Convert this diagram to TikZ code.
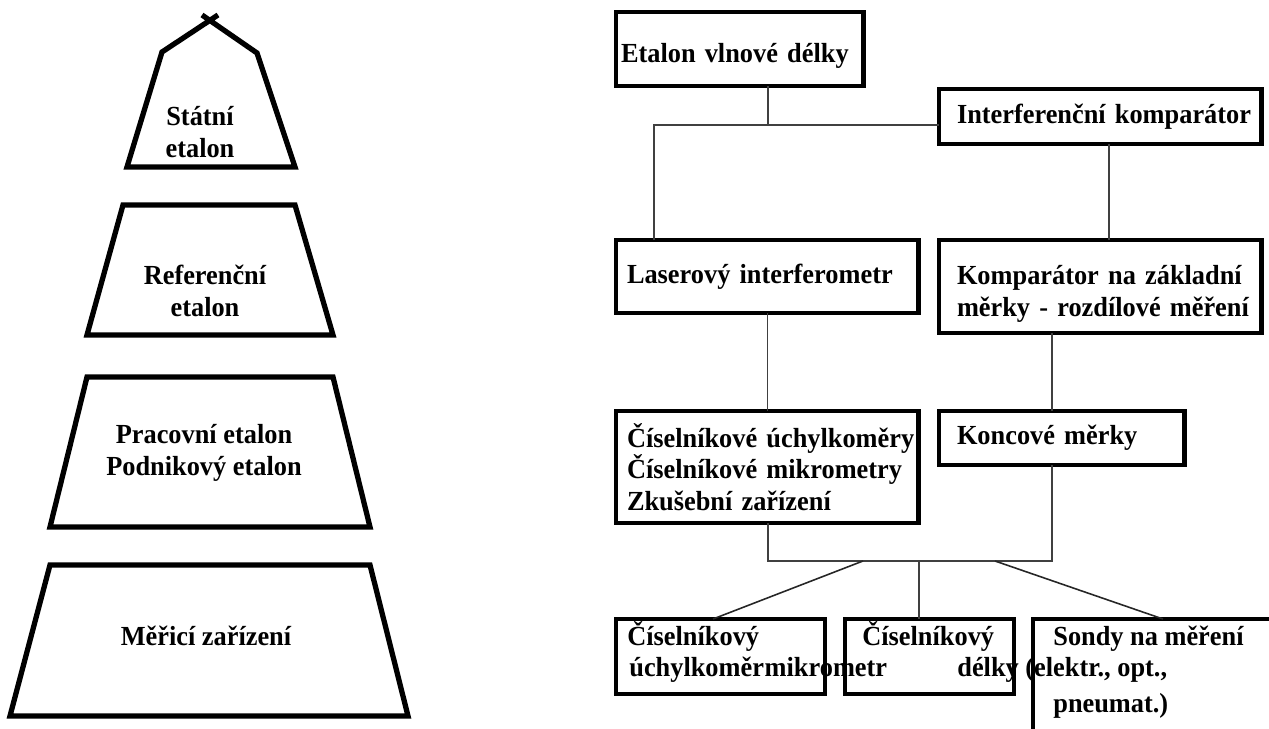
\documentclass[tikz,border=0pt]{standalone}
\usepackage{fontspec}
\setmainfont{Liberation Serif}[FakeStretch=0.955]
\usetikzlibrary{positioning}

\newcommand\hoch{\rule{0pt}{19pt}}
\tikzset{
  piece/.style={line width=3pt},
  blk/.style={draw, line width=2.8pt, anchor=north west, outer sep=0pt, inner ysep=0pt, align=left},
  lbl/.style={inner sep=0pt},
  link/.style={line width=0.6pt, black!75},
  diag/.style={line width=0.9pt, black!85}
}

\begin{document}
\begin{tikzpicture}[x=0.02cm, y=-0.02cm, font=\bfseries\fontsize{15.7}{18}\selectfont]
   \useasboundingbox (0,0) rectangle (1269,729);
   \clip (0,0) rectangle (1269,729);
   % pyramid
   \draw[piece] (218,15) -- (162,52) -- (127,167) -- (295,167) -- (257,53) -- (202,15);
   \draw[piece] (123,205) -- (295,205) -- (333,335) -- (87,335) -- cycle;
   \draw[piece] (87,377) -- (333,377) -- (370,527) -- (50,527) -- cycle;
   \draw[piece] (50,565) -- (370,565) -- (408,716) -- (10,716) -- cycle;
   \node[lbl, align=center] (statni) at (200,132) {Státní\\etalon};
   \node[lbl, align=center] (refer) at (205,291) {Referenční\\etalon};
   \node[lbl, align=center] (pracov) at (204,453) {Pracovní etalon\\Podnikový etalon};
   \node[lbl] (meric) at (206,636) {Měřicí zařízení};
   % chain of standards
   \node[blk, inner xsep=0.10cm, text width=4.76cm, minimum height=1.48cm] (etalon) at (616,12) {\hoch Etalon vlnové délky};
   \node[blk, inner xsep=0.36cm, text width=5.74cm, minimum height=1.10cm] (interf) at (939,89) {\mbox{Interferenční komparátor}};
   \node[blk, inner xsep=0.22cm, text width=5.62cm, minimum height=1.46cm] (laser) at (616,240) {Laserový interferometr};
   \node[blk, inner xsep=0.36cm, text width=5.74cm, minimum height=1.86cm] (kompar) at (939,240) {\mbox{\hoch Komparátor na základní}\\\mbox{měrky - rozdílové měření}};
   \node[blk, inner xsep=0.22cm, text width=5.62cm, minimum height=2.24cm] (cisel) at (616,411) {\mbox{Číselníkové úchylkoměry}\\Číselníkové mikrometry\\Zkušební zařízení};
   \node[blk, inner xsep=0.36cm, text width=4.20cm, minimum height=1.08cm] (koncove) at (939,411) {Koncové měrky};
   % bottom row, text first so that the borders lie over it
   \node[lbl, anchor=base west] (uchylA) at (627,646) {Číselníkový};
   \node[lbl, anchor=base west] (uchylB) at (629,677) {úchylkoměr};
   \node[lbl, anchor=base west] (mikroB) at (uchylB.base east) {mikrometr};
   \node[lbl, anchor=base west] (mikroA) at (862,646) {Číselníkový};
   \node[lbl, anchor=base west] (sondyA) at (1053,646) {Sondy na měření};
   \node[lbl, anchor=base west] (sondyB) at (957,677) {délky (elektr., opt.,};
   \node[lbl, anchor=base west] (sondyC) at (1053,712) {pneumat.)};
   \node[blk, minimum width=4.18cm, minimum height=1.50cm] (uchyl) at (616,619) {};
   \node[blk, minimum width=3.38cm, minimum height=1.50cm] (mikro) at (845,619) {};
   \node[blk, minimum width=5.20cm, minimum height=2.80cm] (sondy) at (1033,619) {};
   % connectors
   \coordinate (split) at (654,125);
   \coordinate (drop) at (768,125);
   \coordinate (busL) at (768,561);
   \coordinate (busR) at (1052,561);
   \coordinate (b1) at (863,561);
   \coordinate (b2) at (919,561);
   \coordinate (b3) at (995,561);
   \draw[link] (drop |- etalon.south) -- (drop);
   \draw[link] (laser.north -| split) -- (split) -- (split -| interf.west);
   \draw[link] (1109,0 |- interf.south) -- (1109,0 |- kompar.north);
   \draw[link] (laser.south) -- (cisel.north);
   \draw[link] (busR |- kompar.south) -- (busR |- koncove.north);
   \draw[link] (busL |- cisel.south) -- (busL) -- (busR) -- (busR |- koncove.south);
   \draw[diag] (b1) -- (713,0 |- uchyl.north);
   \draw[link] (b2) -- (b2 |- mikro.north);
   \draw[diag] (b3) -- (sondy.north);
\end{tikzpicture}
\end{document}
